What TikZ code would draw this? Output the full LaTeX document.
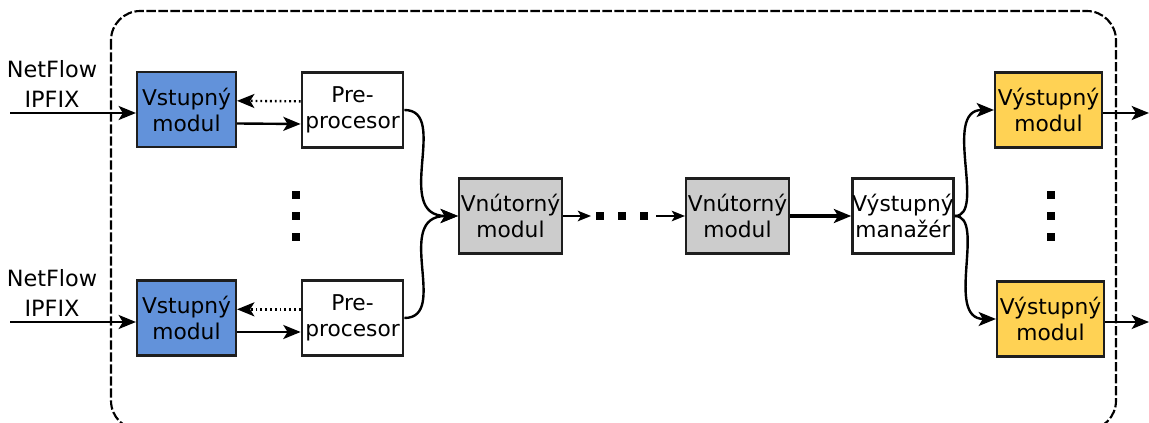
\documentclass[tikz,border=0pt]{standalone}
\usepackage{fontspec}
\setmainfont{DejaVu Sans}
\usetikzlibrary{arrows.meta}
\definecolor{inblue}{RGB}{98,146,218}
\definecolor{ingray}{RGB}{204,204,204}
\definecolor{outyel}{RGB}{255,210,84}
\definecolor{edge}{RGB}{30,30,30}
\begin{document}
\begin{tikzpicture}[x=0.75pt,y=-0.75pt,
  mbox/.style={draw=edge,line width=1.8pt,align=center,inner sep=0pt,
    minimum width=75pt,minimum height=56pt,
    font=\fontsize{16.3}{19.5}\selectfont},
  conn/.style={line width=1.8pt,-{Stealth[length=13pt,width=10.5pt,inset=3.2pt]}},
  thin/.style={line width=1.2pt,-{Stealth[length=10pt,width=8pt,inset=2.5pt]}},
  dotconn/.style={line width=1.8pt,dash pattern=on 1.4pt off 2.2pt,-{Stealth[length=13pt,width=10.5pt,inset=3.2pt]}},
  dotsq/.style={fill=black,draw=none,minimum size=6.3pt,inner sep=0pt},
  lbl/.style={align=center,inner sep=0pt,font=\fontsize{16.8}{22.5}\selectfont}]
\useasboundingbox (0,0) rectangle (1149,423);

% outer dashed frame
\draw[line width=1.6pt,dash pattern=on 7pt off 2pt,rounded corners=22pt] (111,11) rectangle (1116,430);

% input side
\node[mbox,fill=inblue,minimum width=74pt] (vs1) at (186.5,109.5) {Vstupný\\modul};
\node[mbox,fill=inblue,minimum width=74pt] (vs2) at (186.5,318) {Vstupný\\modul};
\node[mbox,fill=white,minimum width=76pt] (pp1) at (352.5,110) {Pre-\\procesor};
\node[mbox,fill=white,minimum width=76pt] (pp2) at (352.5,318) {Pre-\\procesor};

\node[lbl] (lab1) at (52,84) {NetFlow\\IPFIX};
\node[lbl] (lab2) at (52,293) {NetFlow\\IPFIX};
\coordinate (in1) at (10,113);
\coordinate (in2) at (10,322);
\draw[conn] (in1) -- (vs1.west |- in1);
\draw[conn] (in2) -- (vs2.west |- in2);

\draw[dotconn] ([yshift=6.5pt]pp1.west) -- ([yshift=6.5pt]vs1.east);
\draw[conn] ([yshift=-10.5pt]vs1.east) -- ([yshift=-10.5pt]pp1.west);
\draw[dotconn] ([yshift=6.5pt]pp2.west) -- ([yshift=6.5pt]vs2.east);
\draw[conn] ([yshift=-10.5pt]vs2.east) -- ([yshift=-10.5pt]pp2.west);

% vertical dots left
\node[dotsq] (dl1) at (296,195) {};
\node[dotsq] (dl2) at (296,216) {};
\node[dotsq] (dl3) at (296,237) {};

% inner modules
\node[mbox,fill=ingray,minimum width=77pt] (vn1) at (510.5,216) {Vnútorný\\modul};
\node[mbox,fill=ingray,minimum width=77pt] (vn2) at (737.5,216) {Vnútorný\\modul};
\node[mbox,fill=white] (man) at (903,216) {Výstupný\\manažér};

\draw[conn] (pp1.east) .. controls +(46,0) and +(-66,0) .. (vn1.west);
\draw[conn] (pp2.east) .. controls +(46,0) and +(-66,0) .. (vn1.west);

\coordinate (h1) at (591,216);
\coordinate (h2) at (656,216);
\draw[thin] (vn1.east) -- (h1);
\node[dotsq] (dh1) at (600,216) {};
\node[dotsq] (dh2) at (622,216) {};
\node[dotsq] (dh3) at (644,216) {};
\draw[thin] (h2) -- (vn2.west);

\draw[conn,line width=2.3pt] (vn2.east) -- (man.west);

% output side
\node[mbox,fill=outyel,minimum width=80pt] (vy1) at (1048.5,110) {Výstupný\\modul};
\node[mbox,fill=outyel,minimum width=80pt] (vy2) at (1050.5,319) {Výstupný\\modul};

\draw[conn] (man.east) .. controls +(32,0) and +(-52,0) .. (vy1.west);
\draw[conn] (man.east) .. controls +(32,0) and +(-52,0) .. (vy2.west);

\node[dotsq] (dr1) at (1051,195) {};
\node[dotsq] (dr2) at (1051,216) {};
\node[dotsq] (dr3) at (1051,237) {};

\coordinate (o1) at (1149,113);
\coordinate (o2) at (1149,322);
\draw[conn] (vy1.east |- o1) -- (o1);
\draw[conn] (vy2.east |- o2) -- (o2);
\end{tikzpicture}
\end{document}
